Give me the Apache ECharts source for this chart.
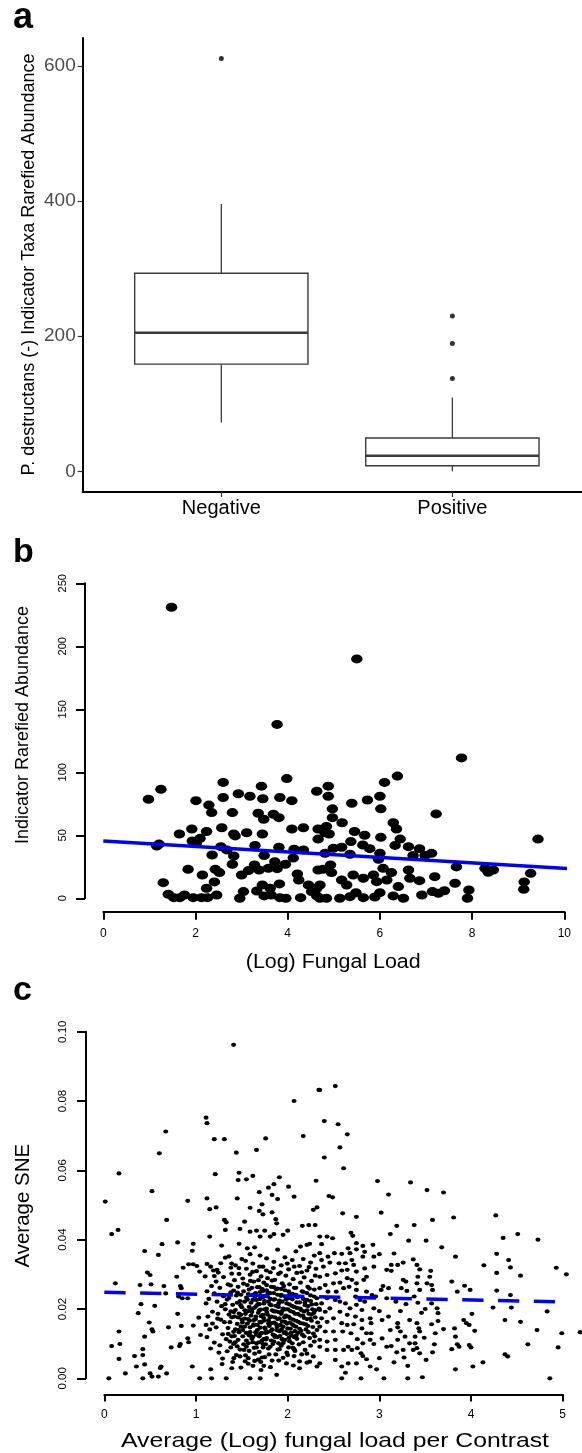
<!DOCTYPE html>
<html>
<head>
<meta charset="utf-8">
<script src="https://cdn.jsdelivr.net/npm/echarts@6.0.0/dist/echarts.min.js"></script>
<style>
html, body { margin: 0; padding: 0; background: #fff; }
#chart { width: 582px; height: 1453px; }
</style>
</head>
<body>
<div id="chart"></div>
<script>
// panel a: boxplot of indicator taxa abundance by Pd status
var groupNames = ['Negative', 'Positive'];
// [group, lower whisker, Q1, median, Q3, upper whisker]
var boxStats = [
    [1, 72.4, 158.6, 205, 293, 395.4],
    [2, 0, 8.4, 23.2, 49.3, 109.3]
];
var boxOutliers = [[1, 610.6], [2, 230], [2, 189], [2, 137.4]];
var abundanceTicks = [0, 200, 400, 600];

// panel b: indicator abundance vs (log) fungal load
var loadPoints = [
    [1.48,231],[3.77,138],[0.98,78.6],[1.25,86.5],[2.6,92],[2.01,77.5],[2.29,74],[2.35,68],[2.6,80],[2.8,68],
    [2.93,83],[3.18,81],[3.43,89],[3.46,79],[3.83,80],[3.98,95],[4.09,77.5],[3.36,67.5],[3.48,62.7],[3.69,66.7],
    [3.81,64],[4.63,85],[1.65,51],[1.92,55],[2.24,53],[2.57,56],[2.83,51],[2.86,49.5],[3.11,52],[3.45,51],
    [4.09,55],[4.34,56],[1.16,41.5],[1.21,43],[1.93,45.5],[2.1,47.6],[2.02,44],[2.36,34.4],[2.55,41],[2.68,38.4],
    [2.83,33.6],[3.29,42],[3.81,40.5],[2.8,27],[1.84,23],[2.15,18.5],[2.43,23],[2.52,20.4],[3.0,18.5],[3.15,22],
    [3.28,26.5],[3.38,22.5],[3.49,34],[3.58,23.8],[3.72,29],[3.77,23.5],[3.95,27],[4.12,32],[4.14,39],[4.34,38.4],
    [4.21,19.3],[4.24,14.5],[1.3,12.4],[2.24,8],[2.41,13],[3.04,5.3],[3.33,5.8],[3.45,10.6],[3.62,8],[3.82,11.4],
    [4.45,10.6],[4.52,5.3],[1.41,3.2],[1.53,0.5],[1.66,0.5],[1.76,2.6],[1.95,0.5],[2.13,0.5],[2.26,0.5],[2.46,2.6],
    [2.96,0],[3.49,1.9],[3.64,2.6],[3.83,0.5],[3.96,0],[4.28,0.5],[4.63,1.9],[4.66,55],[4.66,47],[4.66,22.5],
    [4.63,8],[5.5,190],[7.77,111.4],[6.38,97],[6.1,92],[6.0,81],[6.02,71],[4.88,89],[4.88,81],[5.39,75.4],
    [5.73,78],[4.97,71],[4.97,64],[5.18,60],[7.22,67],[6.29,60],[6.36,55],[4.84,57],[4.81,52],[4.9,51],
    [5.45,53],[5.67,50],[6.02,48.4],[6.44,47],[6.33,42],[9.43,47],[5.37,45],[5.63,42.3],[5.78,39.4],[6.62,41],
    [6.86,39.4],[7.12,35.7],[6.98,34],[6.72,34],[4.99,39.7],[5.17,40.5],[4.81,35.7],[5.35,35],[6.0,35.7],[5.97,31],
    [7.66,24.9],[8.28,23.8],[8.35,20.6],[8.46,22.5],[9.27,19.8],[9.13,13],[9.12,7.1],[4.93,26.5],[4.95,20.4],[4.77,23],
    [5.64,15.9],[5.86,18.5],[6.07,23.8],[6.25,20.4],[6.15,14.5],[5.93,13.2],[5.42,18.5],[5.17,14.5],[5.28,10.6],[6.62,22.5],
    [6.65,15.9],[6.86,14],[7.19,17.2],[6.4,9.3],[7.63,11.9],[7.93,6.6],[7.9,0],[6.91,2.6],[7.14,5.3],[7.27,4],
    [7.4,6],[6.51,0],[6.29,1.9],[4.84,0],[5.13,0],[5.35,1.3],[5.48,4.5],[5.64,0.5],[5.89,1],[6.0,4.5],
    [4.7,10.6],[4.7,0]
];
var loadFit = [[0, 45.5], [10.38, 23]];

// panel c: average SNE vs average (log) fungal load per contrast
var contrastPoints = [
    // sparse left and upper points
    [1.41,0.0962],[2.07,0.080],[2.34,0.0832],[1.11,0.0752],[1.12,0.0736],[0.67,0.0712],[2.17,0.0699],[1.2,0.069],[1.31,0.069],[1.76,0.0692],
    [0.6,0.0649],[1.44,0.0651],[1.66,0.0659],[0.16,0.0591],[1.47,0.0593],[1.46,0.0572],[1.21,0.0589],[1.55,0.0574],[1.62,0.0584],[1.91,0.058],
    [2.01,0.0553],[2.31,0.057],[1.69,0.0537],[1.79,0.055],[1.85,0.056],[1.83,0.0529],[1.89,0.0517],[2.07,0.0524],[0.52,0.054],[0.01,0.051],
    [0.91,0.0512],[1.12,0.0519],[1.15,0.0488],[1.22,0.0493],[1.45,0.0519],[1.59,0.0492],[1.72,0.0502],[1.69,0.0483],[1.73,0.0473],[1.83,0.0479],
    [1.87,0.0459],[1.88,0.0447],[0.68,0.0457],[1.31,0.0457],[1.33,0.045],[1.53,0.0452],[2.28,0.0486],[2.32,0.0493],[2.16,0.044],[2.23,0.0442],
    [2.3,0.0442],[0.08,0.0416],[0.15,0.0428],[1.15,0.0409],[1.32,0.0428],[1.48,0.0431],[1.59,0.0423],[1.66,0.0426],[1.7,0.0409],[1.75,0.0426],
    [1.81,0.0409],[1.85,0.0416],[1.95,0.0414],[2.0,0.0426],[2.14,0.038],[2.21,0.0385],[2.24,0.0388],[0.44,0.0367],[0.63,0.0387],[0.8,0.0392],
    [0.97,0.0388],[0.96,0.0368],[0.59,0.0356],[1.28,0.0383],[1.47,0.0388],[1.56,0.0375],[1.64,0.0378],[1.32,0.0348],[1.38,0.0319],[0.47,0.0305],
    [0.5,0.0298],[0.92,0.0329],[0.97,0.0329],[1.01,0.0324],[0.86,0.0319],[0.79,0.0293],[1.12,0.033],[1.16,0.0322],[1.04,0.0308],[1.23,0.0313],
    [1.2,0.0295],[0.39,0.0269],[0.51,0.0271],[0.12,0.0274],[0.65,0.0266],[0.67,0.0245],[0.83,0.0266],[0.84,0.026],[0.81,0.0236],[0.85,0.0231],
    [0.91,0.0231],[0.4,0.0214],[0.37,0.0188],[0.55,0.0209],[0.49,0.0161],[0.52,0.0141],[0.53,0.0135],[0.44,0.012],[0.8,0.0186],[0.84,0.0151],
    [0.7,0.0147],[0.16,0.0135],[0.17,0.0099],[0.08,0.0093],[0.16,0.0056],[0.23,0.0014],[0.05,0.0],[0.33,0.0064],[0.35,0.0034],[0.42,0.0084],
    [0.42,0.0067],[0.44,0.004],[0.42,0.0],[0.5,0.0014],[0.52,0.0005],[0.59,0.0005],[0.61,0.003],[0.62,0.0034],[0.68,0.0014],[0.73,0.0089],
    [0.82,0.0093],[0.83,0.0099],[0.91,0.0115],[0.92,0.0104],[0.96,0.0034],[1.04,0.0],[0.97,0.0152],[1.03,0.0175],[1.05,0.0125],[1.11,0.0154],
    [1.16,0.0026],[1.17,0.0],[1.33,0.0],[1.39,0.0029],[1.59,0.0],[1.7,0.0],[1.71,0.0024],[1.88,0.001],[1.48,0.0063],[1.57,0.0058],
    [1.64,0.005],[1.72,0.006],[2.0,0.0067],[2.13,0.0029],[2.21,0.0045],[2.32,0.0034],[2.19,0.0082],[2.28,0.0063],[2.07,0.0084],
    // dense cloud, x 1.1 - 2.35
    [1.10,0.0294],[1.12,0.0251],[1.11,0.0216],[1.13,0.0178],[1.15,0.0141],[1.17,0.0266],[1.14,0.0229],[1.18,0.0192],[1.12,0.0119],[1.16,0.0086],
    [1.19,0.0311],[1.2,0.0245],[1.18,0.0158],[1.2,0.0103],[1.22,0.0279],[1.23,0.0221],[1.24,0.0186],[1.22,0.0147],[1.25,0.0074],[1.27,0.0332],
    [1.26,0.0261],[1.28,0.0208],[1.27,0.0169],[1.29,0.0127],[1.26,0.0095],[1.3,0.0292],[1.3,0.0237],[1.29,0.0057],[1.32,0.0199],[1.31,0.0162],
    [1.33,0.0113],[1.35,0.0271],[1.34,0.0227],[1.36,0.0184],[1.35,0.0145],[1.37,0.0106],[1.34,0.0078],[1.39,0.0302],[1.38,0.0248],[1.4,0.0212],
    [1.39,0.0176],[1.41,0.0134],[1.38,0.0089],[1.4,0.0047],[1.36,0.0352],[1.43,0.0326],[1.42,0.0283],[1.44,0.0239],[1.43,0.0197],[1.45,0.0157],
    [1.42,0.0122],[1.44,0.0067],[1.47,0.0301],[1.46,0.0264],[1.48,0.0223],[1.47,0.0187],[1.49,0.0149],[1.46,0.0111],[1.48,0.0083],[1.5,0.0344],
    [1.5,0.0205],[1.49,0.0031],[1.51,0.0288],[1.52,0.0251],[1.53,0.0172],[1.51,0.0139],[1.52,0.0098],[1.54,0.0066],[1.55,0.0316],[1.56,0.0269],
    [1.55,0.0233],[1.57,0.0194],[1.56,0.0158],[1.58,0.0124],[1.55,0.0091],[1.59,0.0358],[1.59,0.0299],[1.58,0.0256],[1.6,0.0218],[1.6,0.0181],
    [1.59,0.0147],[1.61,0.0114],[1.58,0.0079],[1.57,0.0042],[1.62,0.0331],[1.63,0.0279],[1.62,0.0241],[1.64,0.0204],[1.63,0.0168],[1.65,0.0133],
    [1.62,0.0104],[1.64,0.0071],[1.66,0.0309],[1.67,0.0263],[1.66,0.0226],[1.68,0.0189],[1.67,0.0154],[1.69,0.0121],[1.66,0.0089],[1.68,0.0054],
    [1.7,0.0354],[1.71,0.0294],[1.7,0.0249],[1.69,0.0214],[1.71,0.0179],[1.7,0.0146],[1.72,0.0109],[1.69,0.0076],[1.73,0.0322],[1.74,0.0276],
    [1.73,0.0234],[1.75,0.0199],[1.74,0.0166],[1.76,0.0131],[1.73,0.0099],[1.75,0.0061],[1.74,0.0036],[1.77,0.0346],[1.78,0.0289],[1.77,0.0254],
    [1.79,0.0221],[1.78,0.0184],[1.8,0.0151],[1.77,0.0116],[1.79,0.0086],[1.81,0.0306],[1.82,0.0264],[1.81,0.0229],[1.83,0.0196],[1.82,0.0159],
    [1.84,0.0126],[1.81,0.0091],[1.83,0.0051],[1.85,0.0336],[1.86,0.0284],[1.85,0.0246],[1.87,0.0209],[1.86,0.0176],[1.88,0.0139],[1.85,0.0106],
    [1.87,0.0069],[1.89,0.0371],[1.9,0.0301],[1.89,0.0259],[1.91,0.0224],[1.9,0.0191],[1.92,0.0154],[1.89,0.0119],[1.91,0.0084],[1.93,0.0326],
    [1.94,0.0274],[1.93,0.0241],[1.95,0.0201],[1.94,0.0164],[1.96,0.0131],[1.93,0.0094],[1.95,0.0059],[1.97,0.0349],[1.98,0.0296],[1.97,0.0254],
    [1.99,0.0216],[1.98,0.0181],[2.0,0.0144],[1.97,0.0111],[1.99,0.0074],[2.01,0.0314],[2.02,0.0271],[2.01,0.0231],[2.03,0.0194],[2.02,0.0161],
    [2.04,0.0124],[2.01,0.0089],[2.05,0.0341],[2.06,0.0286],[2.05,0.0244],[2.07,0.0206],[2.06,0.0169],[2.08,0.0136],[2.05,0.0101],[2.07,0.0064],
    [2.09,0.0366],[2.1,0.0304],[2.09,0.0261],[2.1,0.0219],[2.11,0.0186],[2.09,0.0149],[2.1,0.0114],[2.08,0.0079],[2.13,0.0324],[2.14,0.0276],
    [2.13,0.0236],[2.15,0.0196],[2.14,0.0159],[2.16,0.0126],[2.13,0.0049],[2.17,0.0344],[2.18,0.0291],[2.17,0.0249],[2.19,0.0211],[2.18,0.0174],
    [2.2,0.0141],[2.17,0.0104],[2.21,0.0311],[2.22,0.0264],[2.21,0.0226],[2.23,0.0186],[2.22,0.0151],[2.24,0.0116],[2.21,0.0071],[2.25,0.0334],
    [2.26,0.0281],[2.25,0.0239],[2.27,0.0199],[2.26,0.0166],[2.28,0.0129],[2.25,0.0094],[2.29,0.0354],[2.3,0.0296],[2.29,0.0256],[2.31,0.0214],
    [2.3,0.0176],[2.32,0.0139],[2.29,0.0106],
    [1.36,0.0232],[1.38,0.0193],[1.37,0.0162],[1.39,0.0121],[1.41,0.0253],[1.42,0.0178],[1.43,0.0141],[1.41,0.0099],[1.45,0.0218],[1.46,0.0176],
    [1.47,0.0133],[1.45,0.0092],[1.49,0.0241],[1.5,0.0169],[1.51,0.0121],[1.49,0.0183],[1.53,0.0221],[1.54,0.0186],[1.53,0.0149],[1.55,0.0109],
    [1.57,0.0243],[1.58,0.0206],[1.57,0.0171],[1.59,0.0133],[1.61,0.0261],[1.62,0.0226],[1.61,0.0191],[1.63,0.0156],[1.62,0.0119],[1.65,0.0246],
    [1.66,0.0209],[1.65,0.0171],[1.67,0.0139],[1.66,0.0101],[1.69,0.0263],[1.7,0.0229],[1.69,0.0196],[1.71,0.0161],[1.7,0.0128],[1.73,0.0252],
    [1.74,0.0216],[1.73,0.0183],[1.75,0.0146],[1.74,0.0113],[1.77,0.0269],[1.78,0.0236],[1.77,0.0201],[1.79,0.0167],[1.78,0.0133],[1.76,0.0098],
    [1.81,0.0246],[1.82,0.0211],[1.81,0.0176],[1.83,0.0141],[1.82,0.0109],[1.85,0.0263],[1.86,0.0228],[1.85,0.0193],[1.87,0.0157],[1.86,0.0123],
    [1.89,0.0241],[1.9,0.0206],[1.89,0.0171],[1.91,0.0136],[1.9,0.0101],[1.93,0.0258],[1.94,0.0221],[1.93,0.0186],[1.95,0.0149],[1.94,0.0113],
    [1.97,0.0236],[1.98,0.0199],[1.97,0.0163],[1.99,0.0128],[2.01,0.0251],[2.02,0.0213],[2.01,0.0178],[2.03,0.0143],[2.02,0.0107],[2.05,0.0228],
    [2.06,0.0191],[2.05,0.0156],[2.07,0.0119],[2.09,0.0241],[2.1,0.0203],[2.09,0.0166],[2.11,0.0131],[2.13,0.0219],[2.14,0.0181],[2.13,0.0143],
    [2.17,0.0229],[2.18,0.0193],[2.17,0.0158],[2.21,0.0246],[2.22,0.0208],[2.21,0.0171],[2.25,0.0223],[2.26,0.0184],[2.29,0.0236],[2.3,0.0196],
    [1.236,0.0172],[1.318,0.0214],[1.352,0.0128],[1.377,0.0268],[1.412,0.0191],[1.428,0.0104],[1.453,0.0247],[1.461,0.0139],[1.487,0.0211],[1.506,0.0161],
    [1.518,0.0273],[1.524,0.0082],[1.533,0.0196],[1.546,0.0131],[1.562,0.0227],[1.571,0.0101],[1.584,0.0166],[1.593,0.0281],[1.604,0.0121],[1.612,0.0199],
    [1.627,0.0152],[1.633,0.0088],[1.641,0.0236],[1.652,0.0178],[1.659,0.0126],[1.674,0.0214],[1.681,0.0283],[1.688,0.0104],[1.697,0.0163],[1.705,0.0198],
    [1.716,0.0131],[1.724,0.0257],[1.731,0.0089],[1.739,0.0174],[1.748,0.0223],[1.756,0.0142],[1.763,0.0112],[1.772,0.0191],[1.784,0.0247],[1.791,0.0158],
    [1.797,0.0069],[1.806,0.0213],[1.815,0.0136],[1.823,0.0178],[1.829,0.0282],[1.838,0.0099],[1.846,0.0227],[1.853,0.0161],[1.861,0.0119],[1.869,0.0193],
    [1.876,0.0257],[1.884,0.0148],[1.893,0.0083],[1.902,0.0216],[1.909,0.0173],[1.917,0.0122],[1.926,0.0238],[1.933,0.0141],[1.941,0.0194],[1.952,0.0102],
    [1.958,0.0266],[1.966,0.0176],[1.974,0.0133],[1.983,0.0228],[1.991,0.0158],[2.004,0.0199],[2.013,0.0117],[2.021,0.0242],[2.029,0.0173],[2.038,0.0131],
    [2.046,0.0209],[2.057,0.0088],[2.064,0.0152],[2.072,0.0261],[2.081,0.0186],[2.093,0.0123],[2.104,0.0234],[2.116,0.0163],[2.124,0.0098],[2.137,0.0201],
    [2.146,0.0137],[2.158,0.0251],[2.166,0.0181],[2.179,0.0121],[2.188,0.0218],[2.197,0.0156],[2.212,0.0196],[2.226,0.0133],[2.238,0.0259],[2.247,0.0172],
    [2.262,0.0213],[2.274,0.0148],[2.287,0.0189],[2.296,0.0121],[2.318,0.0231],[2.327,0.0161],[2.342,0.0201],
    [1.243,0.0305],[1.389,0.0331],[1.468,0.0318],[1.541,0.0339],[1.617,0.0307],[1.693,0.0322],[1.768,0.0311],[1.844,0.0318],[1.921,0.0305],[1.996,0.0331],
    [2.071,0.0322],[2.152,0.0306],[2.233,0.0321],[2.309,0.0316],
    [1.285,0.0041],[1.413,0.0058],[1.536,0.0049],[1.621,0.0036],[1.707,0.0047],[1.812,0.0032],[1.903,0.0051],[1.987,0.0043],[2.062,0.0037],[2.153,0.0069],
    [2.241,0.0048],
    // right part, x 2.35 - 5.2
    [2.52,0.0843],[2.35,0.0832],[2.40,0.0742],[2.55,0.0733],[2.65,0.0704],[2.57,0.0666],[2.40,0.0637],[2.61,0.0606],[2.98,0.0569],[3.34,0.0565],
    [3.1,0.053],[3.52,0.0543],[3.7,0.0536],[2.45,0.0526],[2.49,0.0522],[2.6,0.0476],[2.75,0.0466],[3.02,0.0478],[3.81,0.0464],[3.58,0.0457],
    [4.27,0.047],[3.19,0.044],[3.38,0.0442],[4.35,0.0405],[4.51,0.0416],[4.73,0.04],[3.32,0.0397],[3.51,0.0397],[3.12,0.0416],[3.68,0.0378],
    [3.83,0.0351],[4.28,0.0359],[4.41,0.0341],[4.14,0.0326],[4.43,0.032],[4.54,0.0296],[4.93,0.0319],[5.04,0.03],[4.28,0.0304],[3.79,0.0279],
    [3.85,0.025],[3.93,0.0267],[3.99,0.0255],[4.28,0.0253],[4.43,0.024],[4.24,0.0204],[4.44,0.0204],[4.83,0.0193],[4.01,0.0186],[4.37,0.0168],
    [4.54,0.0163],[3.92,0.0168],[3.95,0.0159],[3.98,0.0154],[4.04,0.0137],[3.82,0.0144],[3.83,0.012],[4.72,0.0139],[4.99,0.013],[5.19,0.0133],
    [4.62,0.0098],[4.95,0.0089],[3.85,0.0098],[3.87,0.0091],[3.79,0.0084],[3.98,0.0096],[4.0,0.0089],[4.37,0.0069],[4.4,0.0063],[4.13,0.0046],
    [4.02,0.0034],[3.83,0.0026],[4.86,0.0],[3.47,0.0003],[3.31,0.0],[3.05,0.0],[2.8,0.0],[2.59,0.0],[2.63,0.0016],[2.35,0.0043],
    [2.59,0.0034],[2.75,0.0043],[2.97,0.0026],[3.0,0.0058],[3.16,0.0046],[3.27,0.006],[3.31,0.0036],[3.51,0.0053],[2.82,0.0064],[2.86,0.0055],
    [3.08,0.0091],[3.19,0.0075],[3.26,0.0082],[3.58,0.0075],[3.39,0.0101],[3.41,0.0087],[3.6,0.0098],[3.49,0.0117],[3.61,0.013],[3.7,0.0142],
    [3.57,0.0156],[3.64,0.0165],[3.43,0.0144],[3.33,0.0168],[3.2,0.0147],[3.23,0.0135],[3.28,0.012],[3.2,0.0111],[3.13,0.0093],[2.91,0.013],
    [2.9,0.0111],[2.94,0.0099],[2.76,0.0113],[2.82,0.0101],[2.7,0.0082],[2.66,0.0091],[2.61,0.0082],[2.52,0.0082],[2.41,0.0135],[2.5,0.0135],
    [2.6,0.0135],[2.69,0.013],[2.43,0.0106],[2.52,0.0111],[2.59,0.0159],[2.72,0.0156],[2.91,0.0159],[3.03,0.0168],[3.1,0.0178],[3.23,0.0194],
    [3.29,0.0214],[3.46,0.0189],[3.5,0.02],[3.63,0.0202],[3.64,0.0188],[3.57,0.0216],[3.42,0.0218],[3.38,0.0236],[3.44,0.0255],[3.41,0.0274],
    [3.52,0.0274],[3.55,0.0293],[3.56,0.031],[3.57,0.0269],[3.58,0.0255],[3.42,0.0293],[3.44,0.0314],[3.41,0.0327],[3.37,0.0343],[3.26,0.0334],
    [3.2,0.0327],[3.13,0.0327],[3.08,0.0313],[3.26,0.0284],[3.29,0.0279],[3.24,0.026],[3.3,0.0252],[3.18,0.0221],[3.1,0.026],[3.04,0.0266],
    [3.02,0.0255],[3.08,0.0231],[2.96,0.0236],[3.0,0.0194],[2.94,0.0202],[3.03,0.0115],[3.12,0.0139],[3.2,0.0159],[3.39,0.012],[3.41,0.0159],
    [3.44,0.0135],[3.33,0.0101],[3.44,0.0072],[3.37,0.0082],[2.93,0.0385],[3.0,0.0358],[3.16,0.036],[3.13,0.031],[2.94,0.0351],[2.94,0.0322],
    [2.84,0.0365],[2.82,0.0351],[2.82,0.0382],[2.75,0.039],[2.75,0.0372],[2.69,0.042],[2.71,0.0411],[2.66,0.0375],[2.68,0.0361],[2.59,0.0359],
    [2.51,0.0361],[2.43,0.0409],[2.49,0.0404],[2.37,0.0387],[2.44,0.0351],[2.37,0.0341],[2.39,0.0322],[2.46,0.0334],[2.56,0.0332],[2.63,0.0332],
    [2.7,0.0341],[2.72,0.0327],[2.65,0.0313],[2.59,0.0311],[2.52,0.0303],[2.43,0.0298],[2.75,0.0308],[2.84,0.0317],[2.86,0.0293],[2.83,0.0284],
    [2.75,0.0274],[2.7,0.0284],[2.65,0.0289],[2.57,0.0276],[2.5,0.0274],[2.41,0.0269],[2.61,0.026],[2.67,0.0264],[2.75,0.0255],[2.86,0.025],
    [2.92,0.024],[2.53,0.025],[2.44,0.025],[2.74,0.0236],[2.79,0.0226],[2.84,0.0221],[2.75,0.0212],[2.81,0.0197],[2.68,0.0202],[2.63,0.0216],
    [2.57,0.0221],[2.52,0.0226],[2.43,0.0231],[2.37,0.0216],[2.46,0.0202],[2.41,0.0192],[2.57,0.0192],[2.65,0.0183],[2.74,0.0178],[2.81,0.0168],
    [2.9,0.0173],[2.5,0.0173],[2.43,0.0163],[2.37,0.0173],[2.65,0.0154],[2.81,0.0144],[2.86,0.013],[2.76,0.0087],[2.8,0.0072],[2.52,0.0053],
    [2.43,0.0082],[2.66,0.0043],[2.9,0.0034],[2.35,0.0091],[2.35,0.0111],[2.35,0.0149],[2.35,0.0197],[2.35,0.026],[2.35,0.0293],[2.35,0.0361],
    [2.35,0.0409]
];
var contrastFit = [[0, 0.0248], [5, 0.02205]];

var FONT = 'Liberation Sans, Arial, Helvetica, sans-serif';

function renderBox(params, api) {
    var x = api.value(0), hw = 0.375;
    var lo = api.value(1), q1 = api.value(2), med = api.value(3), q3 = api.value(4), hi = api.value(5);
    var tl = api.coord([x - hw, q3]);
    var br = api.coord([x + hw, q1]);
    var top = api.coord([x, hi]);
    var bot = api.coord([x, lo]);
    var m1 = api.coord([x - hw, med]);
    var m2 = api.coord([x + hw, med]);
    var col = '#3a3a3a';
    return {
        type: 'group',
        children: [
            {type: 'line', shape: {x1: top[0], y1: top[1], x2: top[0], y2: tl[1]}, style: {stroke: col, lineWidth: 1.3}},
            {type: 'line', shape: {x1: bot[0], y1: br[1], x2: bot[0], y2: bot[1]}, style: {stroke: col, lineWidth: 1.3}},
            {type: 'rect', shape: {x: tl[0], y: tl[1], width: br[0] - tl[0], height: br[1] - tl[1]},
                style: {fill: '#fff', stroke: col, lineWidth: 1.4}},
            {type: 'line', shape: {x1: m1[0], y1: m1[1], x2: m2[0], y2: m2[1]}, style: {stroke: col, lineWidth: 2.5}}
        ]
    };
}

function textEl(text, x, y, size, opts) {
    opts = opts || {};
    return {
        type: 'text', x: x, y: y,
        rotation: opts.rotation || 0,
        scaleX: opts.scaleX || 1,
        style: {
            text: text,
            font: (opts.bold ? 'bold ' : '') + size + 'px ' + FONT,
            fill: '#000',
            textAlign: opts.align || 'center', align: opts.align || 'center',
            textVerticalAlign: 'middle', verticalAlign: 'middle'
        }
    };
}

var axisLineStyle = {color: '#000', width: 2};

var option = {
    animation: false,
    backgroundColor: '#fff',
    textStyle: {fontFamily: FONT},
    grid: [
        {left: 82.7, top: 38, width: 499.3, height: 454, containLabel: false, outerBoundsMode: 'none'},
        {left: 103.3, top: 583.3, width: 461, height: 315, containLabel: false, outerBoundsMode: 'none'},
        {left: 104.3, top: 1031.7, width: 458.4, height: 346.6, containLabel: false, outerBoundsMode: 'none'}
    ],
    xAxis: [
        {
            gridIndex: 0, type: 'value', min: 0.4, max: 2.561,
            axisLine: {show: true, onZero: false, lineStyle: axisLineStyle},
            axisTick: {show: true, customValues: [1, 2], length: 5, lineStyle: {color: '#333', width: 1.2}},
            axisLabel: {customValues: [1, 2], formatter: function (v) { return groupNames[Math.round(v) - 1]; },
                color: '#000', fontSize: 20, margin: 6, fontFamily: FONT},
            splitLine: {show: false}
        },
        {
            gridIndex: 1, type: 'value', min: 0, max: 10, interval: 2, offset: 13.4,
            axisLine: {show: true, onZero: false, lineStyle: axisLineStyle},
            axisTick: {show: true, length: 8, lineStyle: {color: '#000', width: 2}},
            axisLabel: {color: '#000', fontSize: 12, margin: 16, fontFamily: FONT},
            splitLine: {show: false}
        },
        {
            gridIndex: 2, type: 'value', min: 0, max: 5, interval: 1, offset: 16.2,
            axisLine: {show: true, onZero: false, lineStyle: axisLineStyle},
            axisTick: {show: true, length: 7, lineStyle: {color: '#000', width: 2}},
            axisLabel: {color: '#000', fontSize: 12, margin: 14, fontFamily: FONT},
            splitLine: {show: false}
        }
    ],
    yAxis: [
        {
            gridIndex: 0, type: 'value', min: -30.5, max: 641.1,
            axisLine: {show: true, onZero: false, lineStyle: axisLineStyle},
            axisTick: {show: true, customValues: abundanceTicks, length: 5, lineStyle: {color: '#333', width: 1.2}},
            axisLabel: {customValues: abundanceTicks, color: '#4d4d4d', fontSize: 19, margin: 7, fontFamily: FONT},
            splitLine: {show: false}
        },
        {
            gridIndex: 1, type: 'value', min: 0, max: 250, interval: 50, offset: 18.3,
            axisLine: {show: true, onZero: false, lineStyle: axisLineStyle},
            axisTick: {show: true, length: 9, lineStyle: {color: '#000', width: 2}},
            axisLabel: {rotate: 90, color: '#000', fontSize: 11, margin: 17, fontFamily: FONT},
            splitLine: {show: false}
        },
        {
            gridIndex: 2, type: 'value', min: 0, max: 0.1, interval: 0.02, offset: 18.3,
            axisLine: {show: true, onZero: false, lineStyle: axisLineStyle},
            axisTick: {show: true, length: 9, lineStyle: {color: '#000', width: 2}},
            axisLabel: {rotate: 90, color: '#000', fontSize: 11.5, margin: 17, fontFamily: FONT,
                formatter: function (v) { return v.toFixed(2); }},
            splitLine: {show: false}
        }
    ],
    series: [
        {
            type: 'custom', xAxisIndex: 0, yAxisIndex: 0,
            renderItem: renderBox, data: boxStats, clip: false
        },
        {
            type: 'scatter', xAxisIndex: 0, yAxisIndex: 0, data: boxOutliers,
            symbolSize: 5, itemStyle: {color: '#333', opacity: 1}
        },
        {
            type: 'scatter', xAxisIndex: 1, yAxisIndex: 1, data: loadPoints, clip: false,
            symbolSize: [11.5, 9], itemStyle: {color: '#000', opacity: 1}
        },
        {
            type: 'line', xAxisIndex: 1, yAxisIndex: 1, data: loadFit, clip: false, z: 5,
            showSymbol: false, symbol: 'none',
            lineStyle: {color: '#0000ff', width: 3.5}
        },
        {
            type: 'scatter', xAxisIndex: 2, yAxisIndex: 2, data: contrastPoints, clip: false,
            symbolSize: [5, 4.2], itemStyle: {color: '#000', opacity: 1}
        },
        {
            type: 'line', xAxisIndex: 2, yAxisIndex: 2, data: contrastFit, clip: false, z: 5,
            showSymbol: false, symbol: 'none',
            lineStyle: {color: '#0000ff', width: 3.5, type: [21.3, 14.5]}
        }
    ],
    graphic: [
        textEl('a', 13, 18.5, 36, {bold: true, align: 'left'}),
        textEl('b', 13, 553, 34, {bold: true, align: 'left'}),
        textEl('c', 13, 991, 34, {bold: true, align: 'left'}),
        textEl('P. destructans (-) Indicator Taxa Rarefied Abundance', 29, 264.5, 18, {rotation: Math.PI / 2}),
        textEl('Indicator Rarefied Abundance', 23, 725, 18, {rotation: Math.PI / 2}),
        textEl('(Log) Fungal Load', 333.2, 962.3, 20, {scaleX: 1.07}),
        textEl('Average SNE', 23.4, 1205.7, 20.5, {rotation: Math.PI / 2}),
        textEl('Average (Log) fungal load per Contrast', 335, 1441, 21, {scaleX: 1.18})
    ]
};

var chart = echarts.init(document.getElementById('chart'));
chart.setOption(option);
</script>
</body>
</html>
